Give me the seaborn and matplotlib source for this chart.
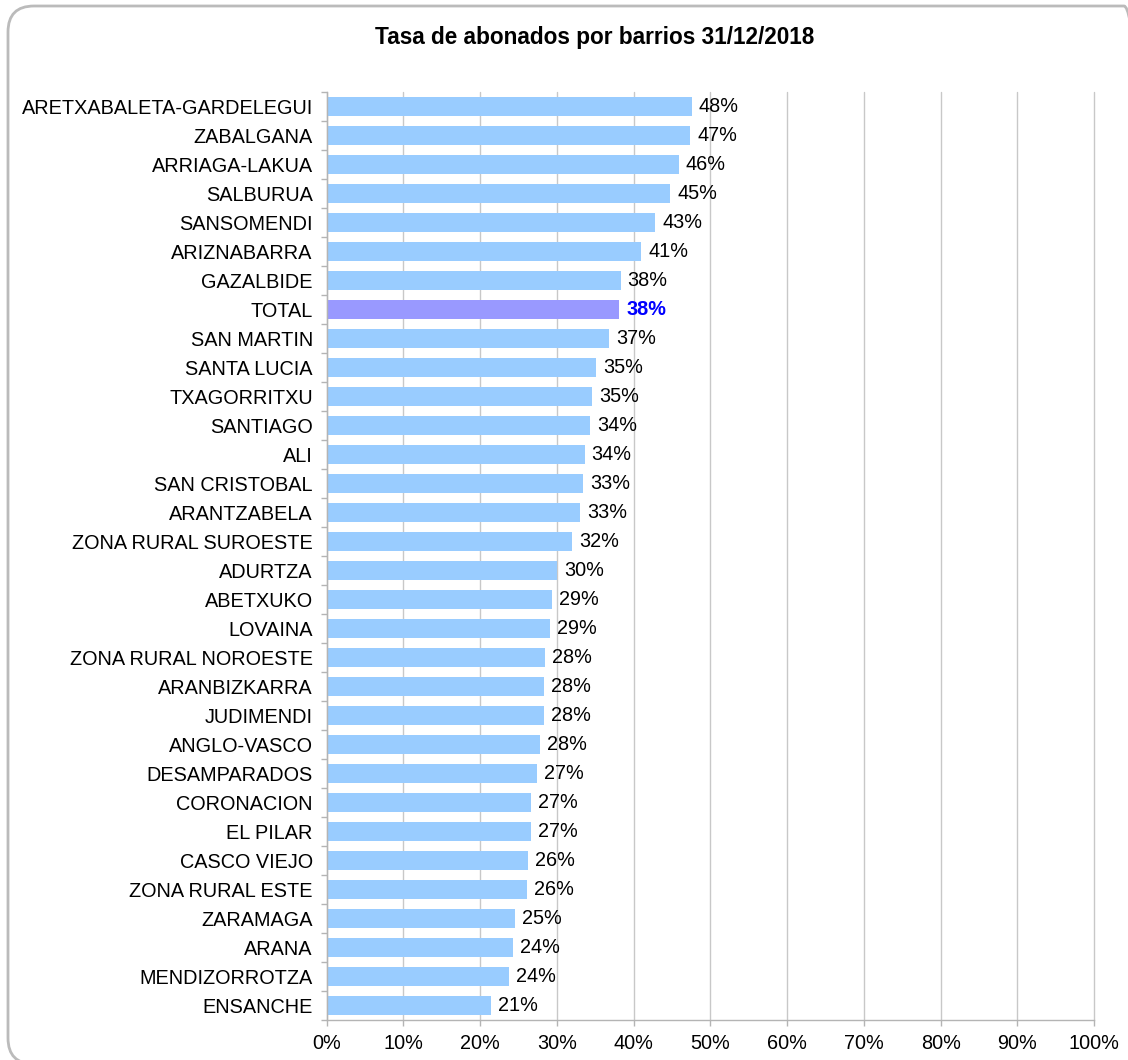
"""Tasa de abonados por barrios 31/12/2018 — horizontal bar chart."""
import matplotlib.pyplot as plt
import numpy as np
import pandas as pd
import seaborn as sns
from matplotlib.patches import FancyBboxPatch
from matplotlib.ticker import FixedLocator, PercentFormatter
from matplotlib.transforms import IdentityTransform

barrios = [
    "ARETXABALETA-GARDELEGUI", "ZABALGANA", "ARRIAGA-LAKUA", "SALBURUA",
    "SANSOMENDI", "ARIZNABARRA", "GAZALBIDE", "TOTAL", "SAN MARTIN",
    "SANTA LUCIA", "TXAGORRITXU", "SANTIAGO", "ALI", "SAN CRISTOBAL",
    "ARANTZABELA", "ZONA RURAL SUROESTE", "ADURTZA", "ABETXUKO", "LOVAINA",
    "ZONA RURAL NOROESTE", "ARANBIZKARRA", "JUDIMENDI", "ANGLO-VASCO",
    "DESAMPARADOS", "CORONACION", "EL PILAR", "CASCO VIEJO",
    "ZONA RURAL ESTE", "ZARAMAGA", "ARANA", "MENDIZORROTZA", "ENSANCHE",
]
tasa = [
    0.476, 0.4735, 0.459, 0.4475, 0.428, 0.410, 0.383, 0.381, 0.368,
    0.351, 0.346, 0.343, 0.336, 0.334, 0.330, 0.320, 0.300, 0.294, 0.291,
    0.285, 0.283, 0.283, 0.278, 0.274, 0.266, 0.266, 0.262, 0.261,
    0.246, 0.243, 0.237, 0.214,
]

df = pd.DataFrame({"barrio": barrios, "tasa": tasa})
palette = {b: ("#9999FF" if b == "TOTAL" else "#99CCFF") for b in barrios}

sns.set_style("white")
plt.rcParams["font.family"] = ["Liberation Sans", "DejaVu Sans"]
plt.rcParams["text.color"] = "black"
plt.rcParams["xtick.color"] = "black"
plt.rcParams["ytick.color"] = "black"

fig = plt.figure(figsize=(11.28, 10.6), dpi=100)
ax = fig.add_axes([0.2896, 0.0377, 0.6804, 0.8755])

sns.barplot(data=df, x="tasa", y="barrio", hue="barrio", palette=palette,
            legend=False, width=0.63, saturation=1, edgecolor="none",
            linewidth=0, ax=ax)

ax.set_xlim(0, 1)
ax.set_ylim(len(barrios) - 0.5, -0.5)
ax.xaxis.set_major_locator(FixedLocator(np.arange(0, 1.01, 0.1)))
ax.xaxis.set_major_formatter(PercentFormatter(1.0, decimals=0))
ax.grid(axis="x", color="#C8C8C8", linewidth=1)
for gl in ax.get_xgridlines():
    gl.set_clip_on(False)
ax.set_axisbelow(True)
ax.set_xlabel("")
ax.set_ylabel("")

for side in ("top", "right"):
    ax.spines[side].set_visible(False)
for side in ("left", "bottom"):
    ax.spines[side].set_color("#B4B4B4")
    ax.spines[side].set_linewidth(1)

ax.tick_params(axis="x", length=4, width=1, color="#B4B4B4", labelcolor="black",
               pad=6, labelsize=14.3, direction="out", bottom=True)
ax.tick_params(axis="y", which="major", length=0, pad=10, labelsize=14.3,
               labelcolor="black")
ax.yaxis.set_minor_locator(FixedLocator(np.arange(-0.5, len(barrios), 1)))
ax.tick_params(axis="y", which="minor", length=4, width=1, color="#B4B4B4",
               left=True)

for i, (b, v) in enumerate(zip(barrios, tasa)):
    is_total = b == "TOTAL"
    ax.annotate(f"{round(v * 100):.0f}%", xy=(v, i), xytext=(5, 0),
                textcoords="offset points", va="center", ha="left",
                fontsize=14.3, color="#0000FF" if is_total else "black",
                fontweight="bold" if is_total else "normal")

fig.text(0.527, 0.965, "Tasa de abonados por barrios 31/12/2018",
         ha="center", va="center", fontsize=16.3, fontweight="bold")

# rounded chart-area border (pixel coordinates), cut by the right/bottom edges
border = FancyBboxPatch((8, -4), 1142, 1058,
                        boxstyle="round,pad=0,rounding_size=26",
                        transform=IdentityTransform(), fill=False,
                        edgecolor="#BBBBBB", linewidth=2, clip_on=False)
fig.patches.append(border)

fig.savefig("out.png", dpi=100)
plt.close(fig)
